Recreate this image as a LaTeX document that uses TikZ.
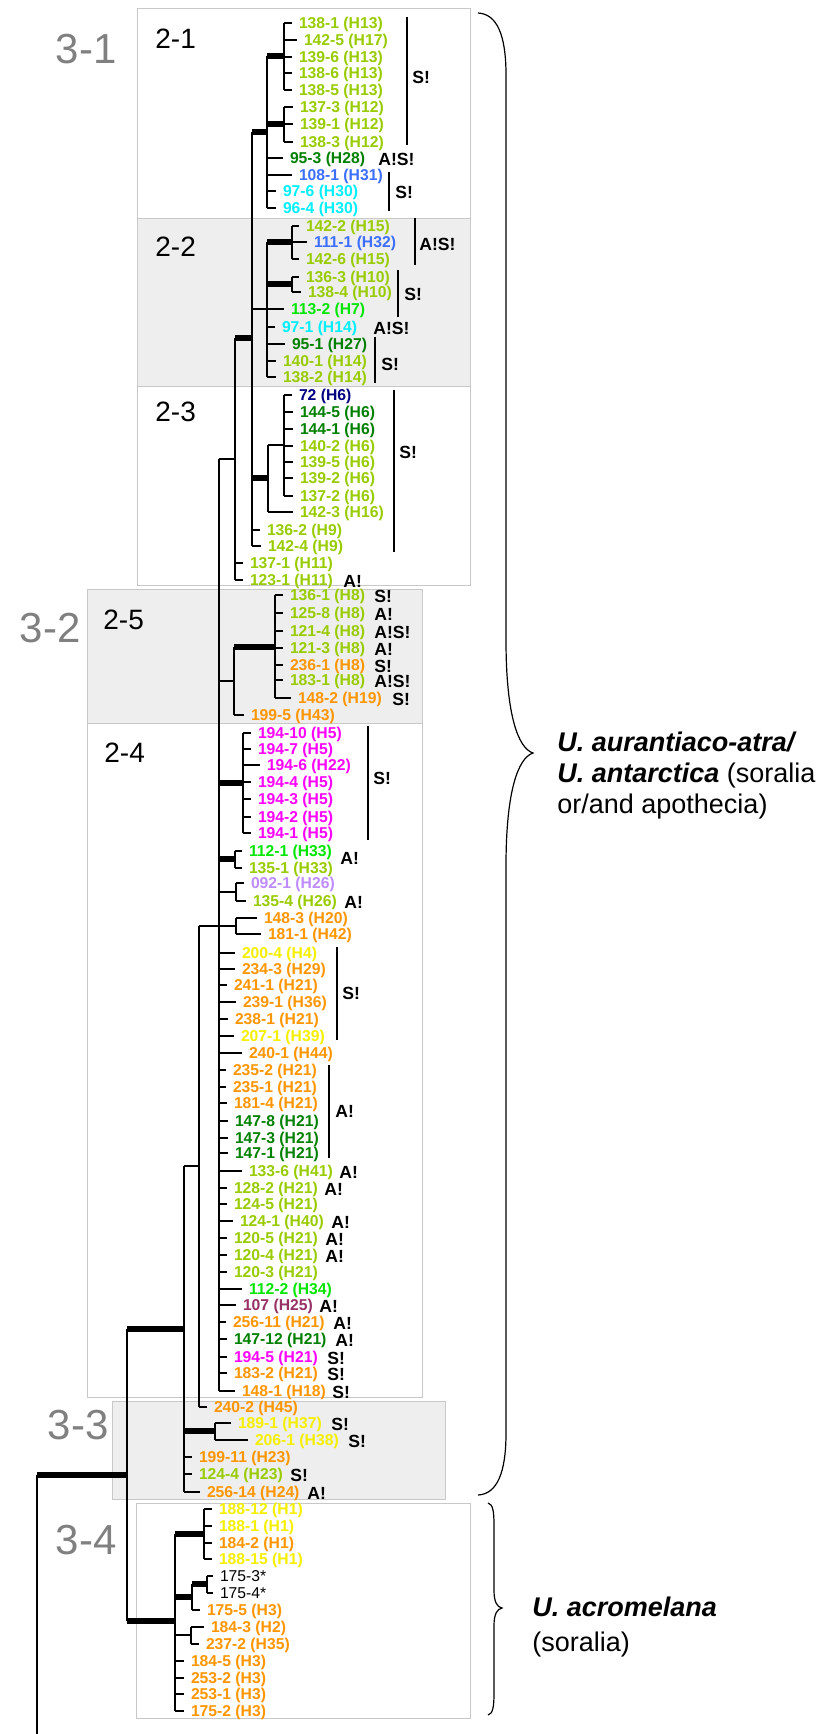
\documentclass[tikz,border=0pt]{standalone}
\usepackage{fontspec}
\setmainfont{Liberation Sans}
\usepackage{xcolor}

\definecolor{ygreen}{RGB}{153,204,0}
\definecolor{dgreen}{RGB}{0,128,0}
\definecolor{bgreen}{RGB}{0,230,0}
\definecolor{hcyan}{RGB}{0,240,255}
\definecolor{hblue}{RGB}{60,110,255}
\definecolor{hnavy}{RGB}{0,0,130}
\definecolor{horange}{RGB}{255,150,0}
\definecolor{hyellow}{RGB}{245,240,0}
\definecolor{hmagenta}{RGB}{255,0,255}
\definecolor{hlilac}{RGB}{190,140,255}
\definecolor{hplum}{RGB}{150,50,100}
\definecolor{boxline}{RGB}{200,200,200}
\definecolor{boxfill}{RGB}{238,238,238}
\definecolor{grplabel}{RGB}{128,128,128}

\tikzset{
  br/.style={line width=1pt},
  thk/.style={line width=3pt},
  bar/.style={line width=0.75pt},
  bracecurve/.style={line width=0.6pt},
  boxw/.style={draw=boxline, line width=0.5pt, fill=white},
  boxg/.style={draw=boxline, line width=0.5pt, fill=boxfill},
  lf/.style={anchor=west, inner sep=0pt, outer xsep=3.5pt, text height=0.72em, text depth=0.2em,
    font=\fontsize{7.85}{9}\selectfont\bfseries},
  mk/.style={anchor=west, inner sep=0pt, text height=0.72em, text depth=0pt,
    font=\fontsize{8.8}{10}\selectfont\bfseries},
  sub/.style={anchor=west, inner sep=0pt, font=\fontsize{14}{16}\selectfont},
  grp/.style={anchor=east, inner sep=0pt, text=grplabel, font=\fontsize{21}{24}\selectfont},
  species/.style={anchor=west, inner sep=0pt, align=left}
}

\begin{document}
\begin{tikzpicture}[x=0.5pt, y=-0.5pt]
    \useasboundingbox (0,0) rectangle (832,1734);

    % clade boxes
    \draw[boxw] (137,9) rectangle (470,218);
    \draw[boxg] (137,218) rectangle (470,386);
    \draw[boxw] (137,386) rectangle (470,585);
    \draw[boxg] (87,589) rectangle (422,723);
    \draw[boxw] (87,723) rectangle (422,1397);
    \draw[boxg] (112,1401) rectangle (445,1499);
    \draw[boxw] (136,1503) rectangle (470,1718);

    \node[sub] (g21) at (155,39) {2-1};
    \node[sub] (g22) at (155,247) {2-2};
    \node[sub] (g23) at (155,412) {2-3};
    \node[sub] (g25) at (103,620) {2-5};
    \node[sub] (g24) at (104,753) {2-4};
    \node[grp] (g31) at (117,49) {3-1};
    \node[grp] (g32) at (81,628) {3-2};
    \node[grp] (g33) at (109,1425) {3-3};
    \node[grp] (g34) at (117,1540) {3-4};

    % 2-1
    \foreach \n/\h/\x/\y/\c in {138-1/H13/292/23/ygreen, 142-5/H17/297/40/ygreen, 139-6/H13/292/57/ygreen,
        138-6/H13/292/73/ygreen, 138-5/H13/292/90/ygreen}
      {\node[lf, text=\c] (t\n) at (\x,\y) {\n\ (\h)}; \draw[br] (284,\y) -- (t\n.west);}
    \draw[br] (284,23) -- (284,90);
    \foreach \n/\h/\x/\y/\c in {137-3/H12/293/107/ygreen, 139-1/H12/293/124/ygreen, 138-3/H12/293/142/ygreen}
      {\node[lf, text=\c] (t\n) at (\x,\y) {\n\ (\h)}; \draw[br] (284,\y) -- (t\n.west);}
    \draw[br] (284,107) -- (284,142);
    \foreach \n/\h/\x/\y/\c in {95-3/H28/283/158/dgreen, 108-1/H31/292/175/hblue, 97-6/H30/276/191/hcyan,
        96-4/H30/276/208/hcyan}
      {\node[lf, text=\c] (t\n) at (\x,\y) {\n\ (\h)}; \draw[br] (267,\y) -- (t\n.west);}
    \draw[thk] (267,56) -- (284,56);
    \draw[thk] (267,124) -- (284,124);
    \draw[br] (267,56) -- (267,208);
    \draw[thk] (252,132) -- (267,132);

    % 2-2
    \foreach \n/\h/\x/\y/\c in {142-2/H15/299/226/ygreen, 111-1/H32/307/242/hblue, 142-6/H15/299/259/ygreen}
      {\node[lf, text=\c] (t\n) at (\x,\y) {\n\ (\h)}; \draw[br] (292,\y) -- (t\n.west);}
    \draw[br] (292,226) -- (292,259);
    \foreach \n/\h/\x/\y/\c in {136-3/H10/299/277/ygreen, 138-4/H10/301/292/ygreen}
      {\node[lf, text=\c] (t\n) at (\x,\y) {\n\ (\h)}; \draw[br] (292,\y) -- (t\n.west);}
    \draw[br] (292,277) -- (292,292);
    \foreach \n/\h/\x/\y/\c in {97-1/H14/275/327/hcyan, 95-1/H27/285/344/dgreen, 140-1/H14/276/361/ygreen,
        138-2/H14/276/377/ygreen}
      {\node[lf, text=\c] (t\n) at (\x,\y) {\n\ (\h)}; \draw[br] (267,\y) -- (t\n.west);}
    \draw[thk] (267,242) -- (292,242);
    \draw[thk] (267,284) -- (292,284);
    \draw[br] (267,242) -- (267,377);
    \node[lf, text=bgreen] (t113-2) at (284,309) {113-2 (H7)};
    \draw[br] (252,309) -- (t113-2.west);

    % 2-3
    \foreach \n/\h/\x/\y/\c in {72/H6/292/395/hnavy, 144-5/H6/293/412/dgreen, 144-1/H6/293/429/dgreen,
        140-2/H6/293/446/ygreen, 139-5/H6/293/462/ygreen, 139-2/H6/293/478/ygreen, 137-2/H6/293/496/ygreen}
      {\node[lf, text=\c] (t\n) at (\x,\y) {\n\ (\h)}; \draw[br] (284,\y) -- (t\n.west);}
    \draw[br] (284,395) -- (284,496);
    \draw[br] (268,445) -- (284,445);
    \node[lf, text=ygreen] (t142-3) at (293,512) {142-3 (H16)};
    \draw[br] (268,512) -- (t142-3.west);
    \draw[br] (268,445) -- (268,512);
    \draw[thk] (252,478) -- (268,478);
    \foreach \n/\h/\x/\y/\c in {136-2/H9/260/530/ygreen, 142-4/H9/261/546/ygreen}
      {\node[lf, text=\c] (t\n) at (\x,\y) {\n\ (\h)}; \draw[br] (252,\y) -- (t\n.west);}
    \draw[br] (252,132) -- (252,546);
    \draw[thk] (235,338) -- (252,338);
    \foreach \n/\h/\x/\y/\c in {137-1/H11/243/563/ygreen, 123-1/H11/243/580/ygreen}
      {\node[lf, text=\c] (t\n) at (\x,\y) {\n\ (\h)}; \draw[br] (235,\y) -- (t\n.west);}
    \draw[br] (235,338) -- (235,580);
    \draw[br] (219,459) -- (235,459);

    % 2-5
    \foreach \n/\h/\x/\y/\c in {136-1/H8/283/595/ygreen, 125-8/H8/283/613/ygreen, 121-4/H8/283/631/ygreen,
        121-3/H8/283/648/ygreen, 236-1/H8/283/665/horange, 183-1/H8/283/680/ygreen, 148-2/H19/291/698/horange}
      {\node[lf, text=\c] (t\n) at (\x,\y) {\n\ (\h)}; \draw[br] (275,\y) -- (t\n.west);}
    \draw[br] (275,595) -- (275,698);
    \draw[thk] (234,647) -- (275,647);
    \node[lf, text=horange] (t199-5) at (244,715) {199-5 (H43)};
    \draw[br] (234,715) -- (t199-5.west);
    \draw[br] (234,647) -- (234,715);
    \draw[br] (219,681) -- (234,681);

    % 2-4
    \foreach \n/\h/\x/\y in {194-10/H5/251/733, 194-7/H5/251/749, 194-6/H22/260/765, 194-4/H5/251/782,
        194-3/H5/251/799, 194-2/H5/251/817, 194-1/H5/251/833}
      {\node[lf, text=hmagenta] (t\n) at (\x,\y) {\n\ (\h)}; \draw[br] (243,\y) -- (t\n.west);}
    \draw[br] (243,733) -- (243,833);
    \draw[thk] (219,783) -- (243,783);
    \foreach \n/\h/\x/\y/\c in {112-1/H33/242/851/bgreen, 135-1/H33/242/868/ygreen}
      {\node[lf, text=\c] (t\n) at (\x,\y) {\n\ (\h)}; \draw[br] (235,\y) -- (t\n.west);}
    \draw[br] (235,851) -- (235,868);
    \draw[thk] (219,859) -- (235,859);
    \foreach \n/\h/\x/\y/\c in {092-1/H26/244/883/hlilac, 135-4/H26/246/901/ygreen,
        148-3/H20/257/918/horange, 181-1/H42/261/934/horange}
      {\node[lf, text=\c] (t\n) at (\x,\y) {\n\ (\h)}; \draw[br] (236,\y) -- (t\n.west);}
    \draw[br] (236,883) -- (236,901);
    \draw[br] (219,892) -- (236,892);
    \draw[br] (236,918) -- (236,934);
    \draw[br] (199,926) -- (236,926);
    \foreach \n/\h/\x/\y/\c in {200-4/H4/235/953/hyellow, 234-3/H29/235/969/horange, 241-1/H21/227/985/horange,
        239-1/H36/236/1002/horange, 238-1/H21/228/1019/horange, 207-1/H39/234/1036/hyellow,
        240-1/H44/242/1053/horange, 235-2/H21/226/1070/horange, 235-1/H21/226/1087/horange,
        181-4/H21/227/1103/horange, 147-8/H21/228/1121/dgreen, 147-3/H21/228/1138/dgreen,
        147-1/H21/228/1153/dgreen, 133-6/H41/242/1171/ygreen, 128-2/H21/227/1188/ygreen,
        124-5/H21/227/1204/ygreen, 124-1/H40/233/1221/ygreen, 120-5/H21/227/1238/ygreen,
        120-4/H21/227/1255/ygreen, 120-3/H21/227/1272/ygreen, 112-2/H34/242/1289/bgreen,
        107/H25/236/1305/hplum, 256-11/H21/226/1322/horange, 147-12/H21/227/1339/dgreen,
        194-5/H21/227/1357/hmagenta, 183-2/H21/227/1373/horange, 148-1/H18/235/1391/horange}
      {\node[lf, text=\c] (t\n) at (\x,\y) {\n\ (\h)}; \draw[br] (219,\y) -- (t\n.west);}
    \draw[br] (219,459) -- (219,1391);
    \node[lf, text=horange] (t240-2) at (207,1407) {240-2 (H45)};
    \draw[br] (199,1407) -- (t240-2.west);
    \draw[br] (199,926) -- (199,1407);
    \draw[br] (184,1166) -- (199,1166);

    % 3-3
    \foreach \n/\h/\x/\y in {189-1/H37/231/1423, 206-1/H38/248/1440}
      {\node[lf, text=hyellow] (t\n) at (\x,\y) {\n\ (\h)}; \draw[br] (215,\y) -- (t\n.west);}
    \draw[br] (215,1423) -- (215,1440);
    \draw[thk] (184,1431) -- (215,1431);
    \foreach \n/\h/\x/\y/\c in {199-11/H23/192/1457/horange, 124-4/H23/192/1474/ygreen, 256-14/H24/200/1492/horange}
      {\node[lf, text=\c] (t\n) at (\x,\y) {\n\ (\h)}; \draw[br] (184,\y) -- (t\n.west);}
    \draw[br] (184,1166) -- (184,1492);
    \draw[thk] (127,1329) -- (184,1329);

    % 3-4
    \foreach \n/\x/\y/\c in {188-12/212/1509/hyellow, 188-1/212/1526/hyellow, 184-2/212/1543/horange,
        188-15/212/1559/hyellow}
      {\node[lf, text=\c] (t\n) at (\x,\y) {\n\ (H1)}; \draw[br] (204,\y) -- (t\n.west);}
    \draw[br] (204,1509) -- (204,1559);
    \draw[thk] (175,1534) -- (204,1534);
    \node[lf, font=\fontsize{7.85}{9}\selectfont] (t1753) at (213,1576) {175-3*};
    \node[lf, font=\fontsize{7.85}{9}\selectfont] (t1754) at (213,1593) {175-4*};
    \draw[br] (207,1576) -- (t1753.west);
    \draw[br] (207,1593) -- (t1754.west);
    \draw[br] (207,1576) -- (207,1593);
    \draw[thk] (192,1584) -- (207,1584);
    \node[lf, text=horange] (t175-5) at (200,1610) {175-5 (H3)};
    \draw[br] (192,1610) -- (t175-5.west);
    \draw[br] (192,1584) -- (192,1610);
    \draw[thk] (175,1597) -- (192,1597);
    \foreach \n/\h/\x/\y in {184-3/H2/204/1627, 237-2/H35/199/1644}
      {\node[lf, text=horange] (t\n) at (\x,\y) {\n\ (\h)}; \draw[br] (191,\y) -- (t\n.west);}
    \draw[br] (191,1627) -- (191,1644);
    \draw[br] (175,1635) -- (191,1635);
    \foreach \n/\y in {184-5/1661, 253-2/1678, 253-1/1694, 175-2/1711}
      {\node[lf, text=horange] (t\n) at (184,\y) {\n\ (H3)}; \draw[br] (175,\y) -- (t\n.west);}
    \draw[br] (175,1534) -- (175,1711);
    \draw[thk] (127,1621) -- (175,1621);

    % backbone
    \draw[br] (127,1329) -- (127,1621);
    \draw[thk] (37,1475) -- (127,1475);
    \draw[br] (37,1475) -- (37,1734);

    % soralia / apothecia marks
    \foreach \t/\x/\y [count=\i] in {S!/412/76, A!S!/378/158, S!/395/191, A!S!/419/243, S!/404/293,
        A!S!/373/327, S!/381/363, S!/399/451, A!/343/580, S!/374/595, A!/374/613, A!S!/374/631,
        A!/374/648, S!/374/665, A!S!/374/680, S!/392/698, S!/373/777, A!/340/857, A!/344/901,
        S!/342/992, A!/335/1110, A!/339/1171, A!/324/1188, A!/331/1221, A!/325/1238, A!/325/1255,
        A!/319/1305, A!/333/1322, A!/335/1339, S!/327/1357, S!/327/1373, S!/332/1391,
        S!/331/1423, S!/348/1440, S!/290/1474, A!/307/1492}
      {\node[mk] (mk\i) at (\x,\y) {\t};}
    \foreach \x/\ya/\yb in {407/17/145, 389/172/211, 415/218/265, 398/270/317, 375/337/383,
        394/390/552, 368/726/840, 337/947/1040, 329/1065/1158}
      {\draw[bar] (\x,\ya) -- (\x,\yb);}

    % species braces
    \draw[bracecurve] (478,13) .. controls (497,14) and (506,35) .. (506,75) -- (506,640)
      .. controls (506,715) and (518,748) .. (533,753) .. controls (518,758) and (506,791) .. (506,866)
      -- (506,1433) .. controls (506,1473) and (497,1494) .. (478,1495);
    \draw[bracecurve] (488,1503) .. controls (493,1504) and (494,1512) .. (494,1525) -- (494,1590)
      .. controls (494,1602) and (497,1607) .. (502,1608) .. controls (497,1609) and (494,1614) .. (494,1626)
      -- (494,1693) .. controls (494,1706) and (493,1714) .. (488,1715);
    \node[species, font=\fontsize{13.5}{15.5}\selectfont] (spA) at (557,776)
      {\textbf{\textit{U. aurantiaco-atra/}}\\\textbf{\textit{U. antarctica}} (soralia\\or/and apothecia)};
    \node[species, font=\fontsize{13.5}{17.5}\selectfont] (spB) at (532,1627)
      {\textbf{\textit{U. acromelana}}\\(soralia)};
\end{tikzpicture}
\end{document}
